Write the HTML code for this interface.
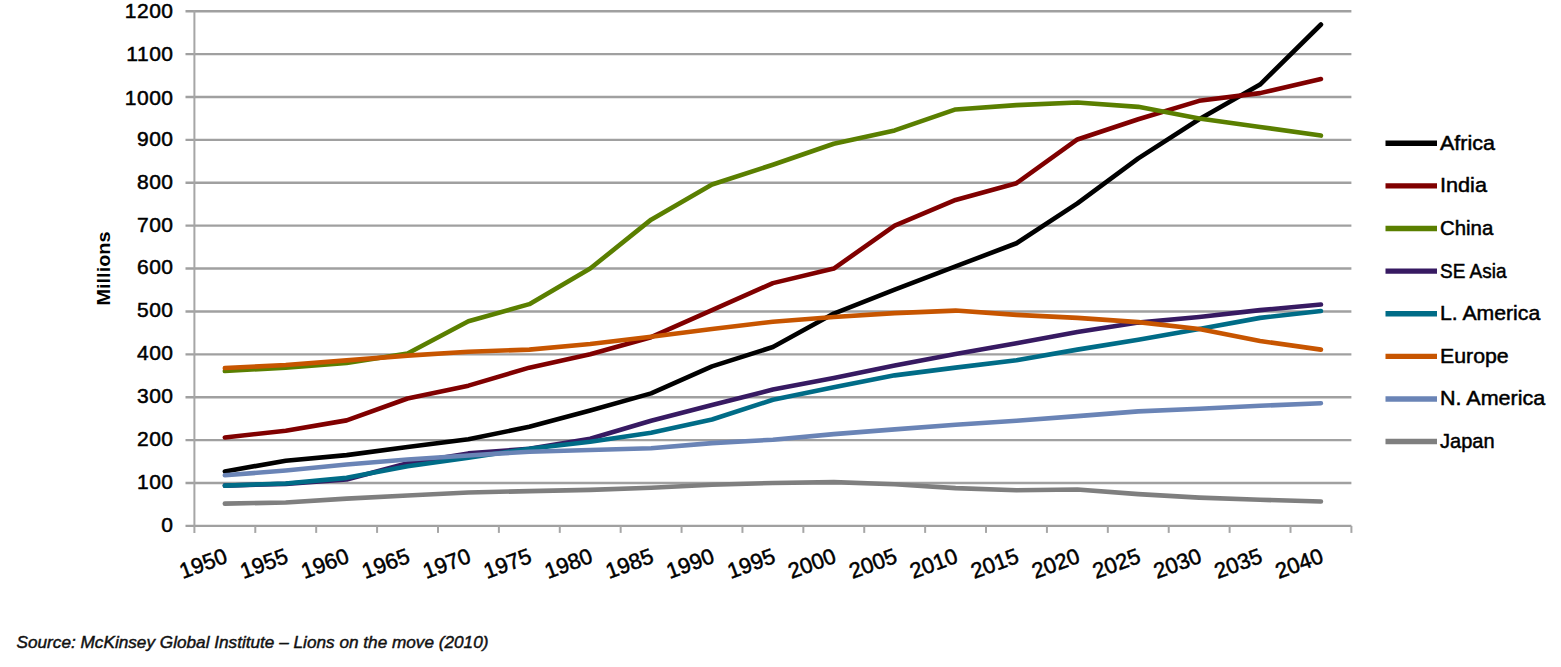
<!DOCTYPE html>
<html><head><meta charset="utf-8"><title>Working-age population by region</title>
<style>html,body{margin:0;padding:0;background:#fff;}body{width:1561px;height:667px;overflow:hidden;font-family:"Liberation Sans", sans-serif;}svg{display:block;}</style>
</head><body>
<svg width="1561" height="667" viewBox="0 0 1561 667"><g stroke="#A0A0A0" stroke-width="2.4"><line x1="185.5" y1="525.90" x2="1351.40" y2="525.90"/><line x1="185.5" y1="483.01" x2="1351.40" y2="483.01"/><line x1="185.5" y1="440.12" x2="1351.40" y2="440.12"/><line x1="185.5" y1="397.23" x2="1351.40" y2="397.23"/><line x1="185.5" y1="354.33" x2="1351.40" y2="354.33"/><line x1="185.5" y1="311.44" x2="1351.40" y2="311.44"/><line x1="185.5" y1="268.55" x2="1351.40" y2="268.55"/><line x1="185.5" y1="225.66" x2="1351.40" y2="225.66"/><line x1="185.5" y1="182.77" x2="1351.40" y2="182.77"/><line x1="185.5" y1="139.88" x2="1351.40" y2="139.88"/><line x1="185.5" y1="96.98" x2="1351.40" y2="96.98"/><line x1="185.5" y1="54.09" x2="1351.40" y2="54.09"/><line x1="185.5" y1="11.20" x2="1351.40" y2="11.20"/></g>
<g stroke="#A6A6A6" stroke-width="2"><line x1="194.40" y1="10.20" x2="194.40" y2="532.90"/><line x1="255.29" y1="525.90" x2="255.29" y2="532.90"/><line x1="316.19" y1="525.90" x2="316.19" y2="532.90"/><line x1="377.08" y1="525.90" x2="377.08" y2="532.90"/><line x1="437.98" y1="525.90" x2="437.98" y2="532.90"/><line x1="498.87" y1="525.90" x2="498.87" y2="532.90"/><line x1="559.77" y1="525.90" x2="559.77" y2="532.90"/><line x1="620.66" y1="525.90" x2="620.66" y2="532.90"/><line x1="681.56" y1="525.90" x2="681.56" y2="532.90"/><line x1="742.45" y1="525.90" x2="742.45" y2="532.90"/><line x1="803.35" y1="525.90" x2="803.35" y2="532.90"/><line x1="864.24" y1="525.90" x2="864.24" y2="532.90"/><line x1="925.14" y1="525.90" x2="925.14" y2="532.90"/><line x1="986.03" y1="525.90" x2="986.03" y2="532.90"/><line x1="1046.93" y1="525.90" x2="1046.93" y2="532.90"/><line x1="1107.82" y1="525.90" x2="1107.82" y2="532.90"/><line x1="1168.72" y1="525.90" x2="1168.72" y2="532.90"/><line x1="1229.61" y1="525.90" x2="1229.61" y2="532.90"/><line x1="1290.51" y1="525.90" x2="1290.51" y2="532.90"/><line x1="1351.40" y1="525.90" x2="1351.40" y2="532.90"/></g>
<polyline fill="none" stroke="#000000" stroke-width="4.6" stroke-linejoin="round" stroke-linecap="round" points="224.85,471.43 285.74,460.70 346.64,455.13 407.53,446.98 468.43,439.26 529.32,426.82 590.22,410.52 651.11,393.36 712.01,366.34 772.90,347.04 833.79,313.59 894.69,289.57 955.58,266.41 1016.48,243.24 1077.37,203.35 1138.27,158.32 1199.16,119.29 1260.06,84.54 1320.95,24.50"/>
<polyline fill="none" stroke="#800000" stroke-width="4.6" stroke-linejoin="round" stroke-linecap="round" points="224.85,437.54 285.74,430.68 346.64,420.39 407.53,398.51 468.43,385.64 529.32,367.63 590.22,354.33 651.11,337.18 712.01,310.15 772.90,283.13 833.79,268.55 894.69,225.66 955.58,199.92 1016.48,183.20 1077.37,139.45 1138.27,119.29 1199.16,100.84 1260.06,93.12 1320.95,78.97"/>
<polyline fill="none" stroke="#5A7F00" stroke-width="4.6" stroke-linejoin="round" stroke-linecap="round" points="224.85,371.06 285.74,367.63 346.64,362.91 407.53,353.48 468.43,321.31 529.32,304.15 590.22,268.55 651.11,219.65 712.01,184.48 772.90,164.75 833.79,143.74 894.69,130.44 955.58,109.42 1016.48,105.13 1077.37,102.56 1138.27,106.85 1199.16,118.43 1260.06,127.01 1320.95,135.59"/>
<polyline fill="none" stroke="#371A62" stroke-width="4.6" stroke-linejoin="round" stroke-linecap="round" points="224.85,485.58 285.74,483.87 346.64,479.58 407.53,463.28 468.43,453.41 529.32,448.69 590.22,438.83 651.11,420.82 712.01,404.95 772.90,389.50 833.79,377.92 894.69,365.49 955.58,353.90 1016.48,343.18 1077.37,332.03 1138.27,322.59 1199.16,317.02 1260.06,310.15 1320.95,304.58"/>
<polyline fill="none" stroke="#006C87" stroke-width="4.6" stroke-linejoin="round" stroke-linecap="round" points="224.85,485.58 285.74,483.44 346.64,477.86 407.53,466.28 468.43,457.70 529.32,448.69 590.22,441.83 651.11,432.83 712.01,419.53 772.90,399.80 833.79,387.36 894.69,375.35 955.58,367.63 1016.48,360.34 1077.37,349.62 1138.27,339.75 1199.16,329.03 1260.06,317.88 1320.95,311.01"/>
<polyline fill="none" stroke="#C75500" stroke-width="4.6" stroke-linejoin="round" stroke-linecap="round" points="224.85,368.06 285.74,365.06 346.64,360.34 407.53,355.62 468.43,351.76 529.32,349.62 590.22,344.04 651.11,336.75 712.01,329.03 772.90,321.74 833.79,317.02 894.69,313.16 955.58,310.58 1016.48,314.87 1077.37,317.88 1138.27,322.16 1199.16,329.03 1260.06,341.04 1320.95,349.62"/>
<polyline fill="none" stroke="#6A84B6" stroke-width="4.6" stroke-linejoin="round" stroke-linecap="round" points="224.85,475.29 285.74,470.57 346.64,464.56 407.53,459.42 468.43,455.56 529.32,451.70 590.22,449.98 651.11,448.27 712.01,443.12 772.90,439.69 833.79,434.11 894.69,429.39 955.58,424.68 1016.48,420.82 1077.37,416.10 1138.27,411.38 1199.16,408.81 1260.06,405.80 1320.95,403.23"/>
<polyline fill="none" stroke="#7F7F7F" stroke-width="4.6" stroke-linejoin="round" stroke-linecap="round" points="224.85,503.60 285.74,502.52 346.64,498.66 407.53,495.45 468.43,492.44 529.32,491.16 590.22,489.87 651.11,487.73 712.01,484.72 772.90,483.01 833.79,482.15 894.69,484.30 955.58,488.16 1016.48,490.30 1077.37,489.44 1138.27,494.16 1199.16,497.59 1260.06,499.74 1320.95,501.45"/>
<g font-family='"Liberation Sans", sans-serif' font-size="21" letter-spacing="0.5" fill="#000" stroke="#000" stroke-width="0.5"><text x="173.5" y="532.40" text-anchor="end">0</text><text x="173.5" y="488.71" text-anchor="end">100</text><text x="173.5" y="445.62" text-anchor="end">200</text><text x="173.5" y="403.23" text-anchor="end">300</text><text x="173.5" y="360.33" text-anchor="end">400</text><text x="173.5" y="317.34" text-anchor="end">500</text><text x="173.5" y="274.25" text-anchor="end">600</text><text x="173.5" y="232.16" text-anchor="end">700</text><text x="173.5" y="189.27" text-anchor="end">800</text><text x="173.5" y="146.38" text-anchor="end">900</text><text x="173.5" y="105.18" text-anchor="end">1000</text><text x="173.5" y="60.59" text-anchor="end">1100</text><text x="173.5" y="17.70" text-anchor="end">1200</text></g>
<g font-family='"Liberation Sans", sans-serif' font-size="22" letter-spacing="0" fill="#000" stroke="#000" stroke-width="0.5"><text transform="translate(223.85,549.00) rotate(-20)" x="0" y="14" text-anchor="end">1950</text><text transform="translate(284.74,549.00) rotate(-20)" x="0" y="14" text-anchor="end">1955</text><text transform="translate(345.64,549.00) rotate(-20)" x="0" y="14" text-anchor="end">1960</text><text transform="translate(406.53,549.00) rotate(-20)" x="0" y="14" text-anchor="end">1965</text><text transform="translate(467.43,549.00) rotate(-20)" x="0" y="14" text-anchor="end">1970</text><text transform="translate(528.32,549.00) rotate(-20)" x="0" y="14" text-anchor="end">1975</text><text transform="translate(589.22,549.00) rotate(-20)" x="0" y="14" text-anchor="end">1980</text><text transform="translate(650.11,549.00) rotate(-20)" x="0" y="14" text-anchor="end">1985</text><text transform="translate(711.01,549.00) rotate(-20)" x="0" y="14" text-anchor="end">1990</text><text transform="translate(771.90,549.00) rotate(-20)" x="0" y="14" text-anchor="end">1995</text><text transform="translate(832.79,549.00) rotate(-20)" x="0" y="14" text-anchor="end">2000</text><text transform="translate(893.69,549.00) rotate(-20)" x="0" y="14" text-anchor="end">2005</text><text transform="translate(954.58,549.00) rotate(-20)" x="0" y="14" text-anchor="end">2010</text><text transform="translate(1015.48,549.00) rotate(-20)" x="0" y="14" text-anchor="end">2015</text><text transform="translate(1076.37,549.00) rotate(-20)" x="0" y="14" text-anchor="end">2020</text><text transform="translate(1137.27,549.00) rotate(-20)" x="0" y="14" text-anchor="end">2025</text><text transform="translate(1198.16,549.00) rotate(-20)" x="0" y="14" text-anchor="end">2030</text><text transform="translate(1259.06,549.00) rotate(-20)" x="0" y="14" text-anchor="end">2035</text><text transform="translate(1319.95,549.00) rotate(-20)" x="0" y="14" text-anchor="end">2040</text></g>
<text transform="translate(109.8,268.5) rotate(-90)" text-anchor="middle" font-family='"Liberation Sans", sans-serif' font-size="19" font-weight="bold" textLength="74" lengthAdjust="spacingAndGlyphs" fill="#000">Millions</text>
<line x1="1385.5" y1="143.30" x2="1437" y2="143.30" stroke="#000000" stroke-width="5.4"/><text x="1440" y="149.80" textLength="55.0" lengthAdjust="spacingAndGlyphs" font-family='"Liberation Sans", sans-serif' font-size="21" fill="#000" stroke="#000" stroke-width="0.5">Africa</text><line x1="1385.5" y1="185.91" x2="1437" y2="185.91" stroke="#800000" stroke-width="5.4"/><text x="1440" y="192.41" textLength="47.0" lengthAdjust="spacingAndGlyphs" font-family='"Liberation Sans", sans-serif' font-size="21" fill="#000" stroke="#000" stroke-width="0.5">India</text><line x1="1385.5" y1="228.52" x2="1437" y2="228.52" stroke="#5A7F00" stroke-width="5.4"/><text x="1440" y="235.02" textLength="53.3" lengthAdjust="spacingAndGlyphs" font-family='"Liberation Sans", sans-serif' font-size="21" fill="#000" stroke="#000" stroke-width="0.5">China</text><line x1="1385.5" y1="271.13" x2="1437" y2="271.13" stroke="#371A62" stroke-width="5.4"/><text x="1440" y="277.63" textLength="66.5" lengthAdjust="spacingAndGlyphs" font-family='"Liberation Sans", sans-serif' font-size="21" fill="#000" stroke="#000" stroke-width="0.5">SE Asia</text><line x1="1385.5" y1="313.74" x2="1437" y2="313.74" stroke="#006C87" stroke-width="5.4"/><text x="1440" y="320.24" textLength="100.2" lengthAdjust="spacingAndGlyphs" font-family='"Liberation Sans", sans-serif' font-size="21" fill="#000" stroke="#000" stroke-width="0.5">L. America</text><line x1="1385.5" y1="356.35" x2="1437" y2="356.35" stroke="#C75500" stroke-width="5.4"/><text x="1440" y="362.85" textLength="68.7" lengthAdjust="spacingAndGlyphs" font-family='"Liberation Sans", sans-serif' font-size="21" fill="#000" stroke="#000" stroke-width="0.5">Europe</text><line x1="1385.5" y1="398.96" x2="1437" y2="398.96" stroke="#6A84B6" stroke-width="5.4"/><text x="1440" y="405.46" textLength="105.2" lengthAdjust="spacingAndGlyphs" font-family='"Liberation Sans", sans-serif' font-size="21" fill="#000" stroke="#000" stroke-width="0.5">N. America</text><line x1="1385.5" y1="441.57" x2="1437" y2="441.57" stroke="#7F7F7F" stroke-width="5.4"/><text x="1440" y="448.07" textLength="54.6" lengthAdjust="spacingAndGlyphs" font-family='"Liberation Sans", sans-serif' font-size="21" fill="#000" stroke="#000" stroke-width="0.5">Japan</text>
<text x="16.5" y="648" font-family='"Liberation Sans", sans-serif' font-style="italic" font-size="17.2" fill="#111" stroke="#111" stroke-width="0.45">Source: McKinsey Global Institute – Lions on the move (2010)</text></svg>
</body></html>
